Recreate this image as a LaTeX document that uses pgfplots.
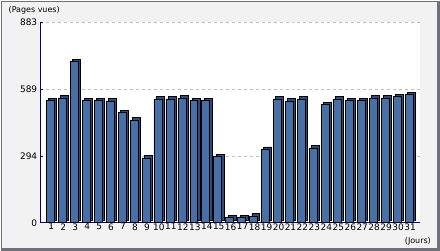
\documentclass[border=0pt]{standalone}
\usepackage{fontspec}
\setmainfont{DejaVu Sans}
\usepackage{pgfplots}
\pgfplotsset{compat=1.18}
\definecolor{bg}{HTML}{F2F2F2}
\definecolor{frame}{HTML}{70707C}
\definecolor{barc}{HTML}{4870A6}
\definecolor{bardark}{HTML}{2E4C78}
\definecolor{navy}{HTML}{000080}
\pgfplotstableread{
x y
1 540
2 550
3 712
4 540
5 540
6 537
7 486
8 453
9 286
10 546
11 546
12 550
13 540
14 540
15 291
16 22
17 22
18 30
19 325
20 546
21 537
22 546
23 330
24 521
25 546
26 540
27 540
28 550
29 550
30 556
31 565
}\data
\begin{document}
\begin{tikzpicture}[x=1pt,y=1pt]
\fill[bg] (0,0) rectangle (440,250);
\draw[frame,line width=0.8pt] (0.4,0.4) rectangle (439.6,249.6);
\draw[frame,line width=3pt] (438.5,250) -- (438.5,1.5) -- (0,1.5);
\fill[white] (39,28) rectangle (420,229);
\begin{axis}[
  at={(39pt,28pt)}, anchor=south west,
  scale only axis, width=381pt, height=201pt,
  xmin=0.17, xmax=31.92, ymin=0, ymax=883,
  axis x line*=bottom, axis y line*=left,
  axis line style={navy, line width=0.8pt, -},
  xtick={1,...,31}, xtick style={draw=none},
  xticklabel style={font=\fontsize{9}{10}\selectfont, inner sep=0.5pt, xshift=1pt},
  ytick={0,294,589,883},
  minor y tick num=4,
  ytick style={navy, line width=0.6pt},
  tick align=inside,
  major tick length=3pt, minor tick length=3pt,
  yticklabel style={font=\fontsize{9}{10}\selectfont, inner sep=1pt, xshift=-2pt},
  /pgf/number format/assume math mode=true,
  ymajorgrids, grid style={dashed, gray!50, line width=0.6pt},
  ylabel={}, xlabel={},
  clip=false,
]
\addplot[ybar, bar width=8pt, bar shift=0pt, fill=bardark, draw=black, line width=0.6pt, xshift=2.2pt, yshift=2.2pt] table[x=x,y=y] {\data};
\addplot[ybar, bar width=8pt, bar shift=0pt, fill=barc, draw=black, line width=0.6pt] table[x=x,y=y] {\data};
\end{axis}
\node[anchor=west, font=\fontsize{8}{9}\selectfont, inner sep=0pt] at (7,241) {(Pages vues)};
\node[anchor=east, font=\fontsize{8}{9}\selectfont, inner sep=0pt] at (431,9.5) {(Jours)};
\end{tikzpicture}
\end{document}
